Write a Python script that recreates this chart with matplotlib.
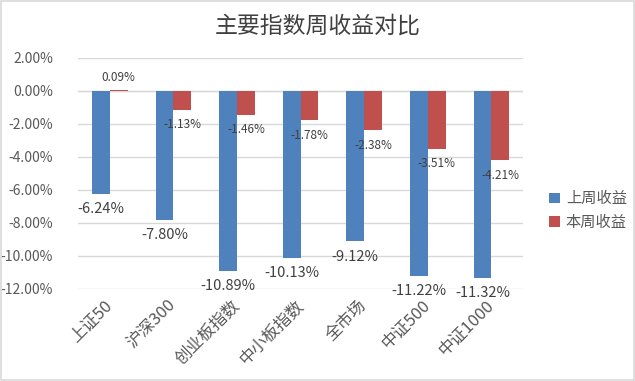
import matplotlib
matplotlib.use("Agg")
import matplotlib.pyplot as plt
import numpy as np
from matplotlib.patches import Rectangle

plt.rcParams['font.family'] = ['Noto Sans CJK SC', 'DejaVu Sans']

categories = ['上证50', '沪深300', '创业板指数', '中小板指数', '全市场', '中证500', '中证1000']
last_week = [-6.24, -7.80, -10.89, -10.13, -9.12, -11.22, -11.32]
this_week = [0.09, -1.13, -1.46, -1.78, -2.38, -3.51, -4.21]
series_names = ['上周收益', '本周收益']
yticks = [2, 0, -2, -4, -6, -8, -10, -12]

blue = '#4F81BD'
red = '#C0504D'
text_col = '#404040'
tick_col = '#595959'

fig = plt.figure(figsize=(6.35, 3.81), dpi=100)
fig.patches.append(Rectangle((0.001, 0.002), 0.997, 0.995, transform=fig.transFigure,
                             fill=False, edgecolor='#D9D9D9', linewidth=1.2))
ax = fig.add_axes([0.123, 0.2415, 0.701, 0.6063])

x = np.arange(len(categories))
w = 0.28
b1 = ax.bar(x - w / 2, last_week, w, color=blue, label=series_names[0], zorder=3)
b2 = ax.bar(x + w / 2, this_week, w, color=red, label=series_names[1], zorder=3)

for xi, v in zip(x, last_week):
    ax.annotate(f'{v:.2f}%', (xi - w / 2, v), xytext=(0, -6), textcoords='offset points',
                ha='center', va='top', fontsize=10.5, color=text_col, zorder=4)
for xi, v in zip(x, this_week):
    if v >= 0:
        ax.annotate(f'{v:.2f}%', (xi + w / 2, v), xytext=(0, 4), textcoords='offset points',
                    ha='center', va='bottom', fontsize=8.5, color=text_col, zorder=4)
    else:
        ax.annotate(f'{v:.2f}%', (xi + w / 2, v), xytext=(0, -6), textcoords='offset points',
                    ha='center', va='top', fontsize=8.5, color=text_col, zorder=4)

ax.set_xlim(-0.5, len(categories) - 0.5)
ax.set_ylim(-12, 2)
ax.set_yticks(yticks)
ax.set_yticklabels([f'{t:.2f}%' for t in yticks], fontsize=10, color=tick_col)
ax.yaxis.grid(True, color='#D9D9D9', linewidth=1, zorder=0)
ax.axhline(0, color='#D9D9D9', linewidth=1, zorder=1)
for s in ax.spines.values():
    s.set_visible(False)
ax.tick_params(axis='both', length=0)
ax.tick_params(axis='y', pad=18)
ax.set_xticks(x)
ax.set_xticklabels(categories, rotation=45, ha='right', va='center', rotation_mode='anchor',
                   fontsize=12, color=tick_col)
ax.tick_params(axis='x', pad=10)

fig.text(0.5, 0.932, '主要指数周收益对比', ha='center', va='center', fontsize=16.5, color='#404040')

leg = fig.legend(handles=[b1, b2], labels=series_names, loc='center left',
                 bbox_to_anchor=(0.843, 0.447), frameon=False, fontsize=11,
                 handlelength=0.7, handleheight=0.7, handletextpad=0.4, labelspacing=0.45)
for t in leg.get_texts():
    t.set_color(tick_col)

fig.savefig('out.png', dpi=100)
